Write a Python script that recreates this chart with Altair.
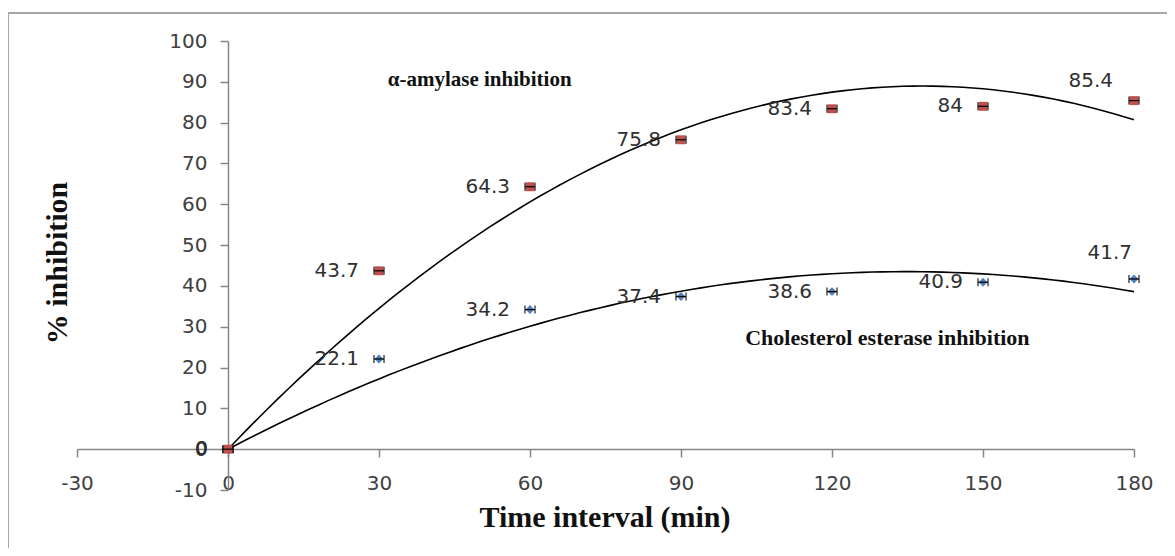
import altair as alt
import numpy as np
import pandas as pd

# ---- data ----
time_min = [0, 30, 60, 90, 120, 150, 180]
amylase = [0, 43.7, 64.3, 75.8, 83.4, 84, 85.4]
cholesterol = [0, 22.1, 34.2, 37.4, 38.6, 40.9, 41.7]
time_err = [1, 1, 1, 1, 1, 1, 1]
x_ticks = [-30, 0, 30, 60, 90, 120, 150, 180]
y_ticks = [-10, 0, 10, 20, 30, 40, 50, 60, 70, 80, 90, 100]

RED = "#C0504D"
BLUE = "#4F81BD"
AXIS_GRAY = "#868686"
LABEL_COLOR = "#404040"


def series_df(values):
    return pd.DataFrame({
        "t": time_min,
        "v": values,
        "lo": [t - e for t, e in zip(time_min, time_err)],
        "hi": [t + e for t, e in zip(time_min, time_err)],
        "lab": [f"{v:g}" for v in values],
    })


def trend_df(values):
    # order-2 polynomial trendline through the origin (least squares on the data)
    t = np.array(time_min, dtype=float)
    y = np.array(values, dtype=float)
    A = np.column_stack([t, t ** 2])
    coef, *_ = np.linalg.lstsq(A, y, rcond=None)
    ts = np.linspace(0, 180, 91)
    return pd.DataFrame({"t": ts, "v": coef[0] * ts + coef[1] * ts ** 2})


amy = series_df(amylase)
chol = series_df(cholesterol)
amy_tr = trend_df(amylase)
chol_tr = trend_df(cholesterol)

xscale = alt.Scale(domain=[-30, 180], nice=False, zero=False)
yscale = alt.Scale(domain=[-10, 100], nice=False, zero=False)

x_axis = alt.Axis(values=x_ticks, offset=-41, tickSize=8, labelPadding=16,
                  labelFontSize=20, labelFont="DejaVu Sans", labelColor=LABEL_COLOR,
                  domainColor=AXIS_GRAY, tickColor=AXIS_GRAY, domainWidth=1.5,
                  tickWidth=1.5, grid=False, title=None, labelFlush=False,
                  labelExpr="'' + datum.value")
y_axis = alt.Axis(values=y_ticks, offset=-151, tickSize=8, labelPadding=13,
                  labelFontSize=20, labelFont="DejaVu Sans", labelColor=LABEL_COLOR,
                  domainColor=AXIS_GRAY, tickColor=AXIS_GRAY, domainWidth=1.5,
                  tickWidth=1.5, grid=False, title=None,
                  labelExpr="'' + datum.value")

X = alt.X("t:Q", scale=xscale, axis=x_axis)
Y = alt.Y("v:Q", scale=yscale, axis=y_axis)
Xn = alt.X("t:Q", scale=xscale)
Yn = alt.Y("v:Q", scale=yscale)

one = pd.DataFrame({"k": [0]})

frame_top = alt.Chart(one).mark_rule(color="#A6A6A6", strokeWidth=2).encode(
    x=alt.value(-69), x2=alt.value(1100), y=alt.value(-28))
frame_left = alt.Chart(one).mark_rule(color="#A6A6A6", strokeWidth=2).encode(
    x=alt.value(-69), y=alt.value(-28), y2=alt.value(520))

axes_layer = alt.Chart(amy_tr).mark_line(color="black", strokeWidth=1.6).encode(x=X, y=Y)
chol_line = alt.Chart(chol_tr).mark_line(color="black", strokeWidth=1.6).encode(x=Xn, y=Yn)


def points(df, shape, color):
    err = alt.Chart(df).mark_rule(color="black", strokeWidth=1.2).encode(
        x=alt.X("lo:Q", scale=xscale), x2="hi:Q", y=Yn)
    cap_lo = alt.Chart(df).mark_tick(color="black", thickness=1.5, size=8, orient="vertical").encode(
        x=alt.X("lo:Q", scale=xscale), y=Yn)
    cap_hi = alt.Chart(df).mark_tick(color="black", thickness=1.5, size=8, orient="vertical").encode(
        x=alt.X("hi:Q", scale=xscale), y=Yn)
    pts = alt.Chart(df).mark_point(shape=shape, filled=True, size=80, color=color, opacity=1).encode(
        x=Xn, y=Yn)
    return pts + err + cap_lo + cap_hi


def labels(df, last_dx, last_dy):
    main = alt.Chart(df).transform_filter("datum.t < 180").mark_text(
        align="right", baseline="middle", dx=-20, fontSize=20, font="DejaVu Sans",
        color="#303030").encode(x=Xn, y=Yn, text="lab:N")
    last = alt.Chart(df).transform_filter("datum.t >= 180").mark_text(
        align="right", baseline="middle", dx=last_dx, dy=last_dy, fontSize=20,
        font="DejaVu Sans", color="#303030").encode(x=Xn, y=Yn, text="lab:N")
    return main + last


ann_df = pd.DataFrame({
    "t": [50, 131],
    "v": [90.4, 27.2],
    "txt": ["\u03b1-amylase inhibition", "Cholesterol esterase inhibition"],
    "fs": ["a", "c"],
})
ann_amy = alt.Chart(ann_df).transform_filter("datum.fs == 'a'").mark_text(
    font="Liberation Serif", fontWeight="bold", fontSize=21, color="#111111",
    align="center", baseline="middle").encode(x=Xn, y=Yn, text="txt:N")
ann_chol = alt.Chart(ann_df).transform_filter("datum.fs == 'c'").mark_text(
    font="Liberation Serif", fontWeight="bold", fontSize=22, color="#111111",
    align="center", baseline="middle").encode(x=Xn, y=Yn, text="txt:N")

x_title = alt.Chart(one).mark_text(
    text="Time interval (min)", font="Liberation Serif", fontWeight="bold", fontSize=30,
    color="#111111", align="center", baseline="middle").encode(
    x=alt.value(528), y=alt.value(477))
y_title = alt.Chart(one).mark_text(
    text="% inhibition", font="Liberation Serif", fontWeight="bold", fontSize=30,
    color="#111111", align="center", baseline="middle", angle=270).encode(
    x=alt.value(-19), y=alt.value(222))

chart = alt.layer(
    axes_layer,
    chol_line,
    frame_top,
    frame_left,
    points(chol, "diamond", BLUE),
    points(amy, "square", RED),
    labels(chol, -2, -26),
    labels(amy, -21, -20),
    ann_amy,
    ann_chol,
    x_title,
    y_title,
).properties(
    width=1057,
    height=449,
    autosize=alt.AutoSizeParams(type="none"),
    padding={"left": 69, "top": 33, "right": 33, "bottom": 58},
).configure_view(stroke=None)

chart.save("out.html", embed_options={"renderer": "svg", "actions": False})
